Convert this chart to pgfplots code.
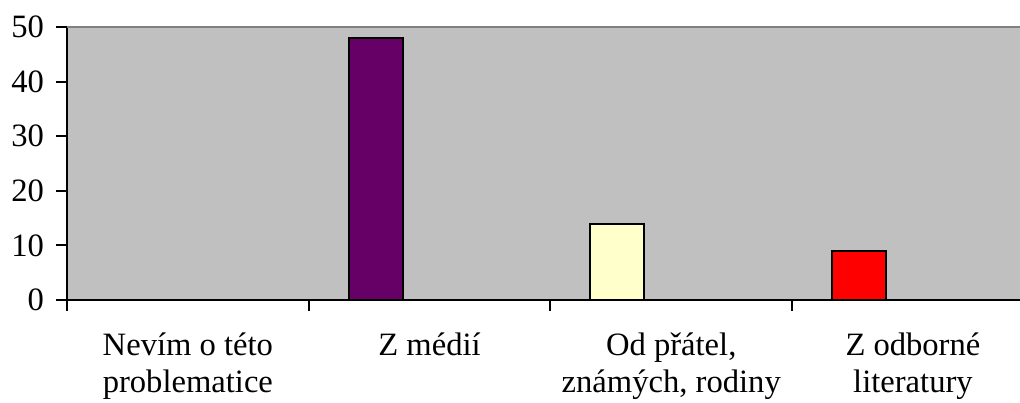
\documentclass[border=0pt]{standalone}
\usepackage{fontspec}
\setmainfont{Liberation Serif}
\usepackage{pgfplots}
\pgfplotsset{compat=1.18}
\definecolor{plotbg}{HTML}{C0C0C0}
\definecolor{mpurple}{HTML}{660066}
\definecolor{mcream}{HTML}{FFFFCC}
\definecolor{mred}{HTML}{FF0000}
\definecolor{topline}{HTML}{808080}
\begin{document}
\begin{tikzpicture}
\begin{axis}[
  name=ax,
  scale only axis,
  width=476.5pt, height=136.5pt,
  xmin=0, xmax=3.943,
  ymin=0, ymax=50,
  axis x line*=bottom,
  axis y line*=left,
  axis line style={-, line width=1pt, black},
  axis background/.style={fill=plotbg},
  tick align=outside,
  major tick length=5.5pt,
  tick style={line width=1pt, black},
  ytick={0,10,20,30,40,50},
  xtick={0,1,2,3},
  xticklabels={},
  extra x ticks={0.5,1.5,2.5,3.5},
  extra x tick labels={{Nevím o této\\problematice},{Z médií},{Od přátel,\\známých, rodiny},{Z odborné\\literatury}},
  extra x tick style={major tick length=0pt, tick style={draw=none}},
  xticklabel style={align=center, font=\fontsize{16.3}{18.3}\selectfont, yshift=-13pt},
  yticklabel style={font=\fontsize{16.3}{18.3}\selectfont, xshift=-2.5pt},
  /pgf/number format/assume math mode=true,
  ybar, bar shift=0pt, bar width=0.2234,
  clip=false,
]
\addplot[draw=black, line width=1pt, fill=mpurple] coordinates {(0.277,0) (1.277,48)};
\addplot[draw=black, line width=1pt, fill=mcream] coordinates {(2.277,14)};
\addplot[draw=black, line width=1pt, fill=mred] coordinates {(3.277,9)};
\draw[topline, line width=1pt] (rel axis cs:0,1) -- (rel axis cs:1,1);
\end{axis}
\pgfresetboundingbox
\path[use as bounding box] ([xshift=-33.5pt,yshift=-51.5pt]ax.south west) rectangle ([yshift=13.5pt]ax.north east);
\end{tikzpicture}
\end{document}
